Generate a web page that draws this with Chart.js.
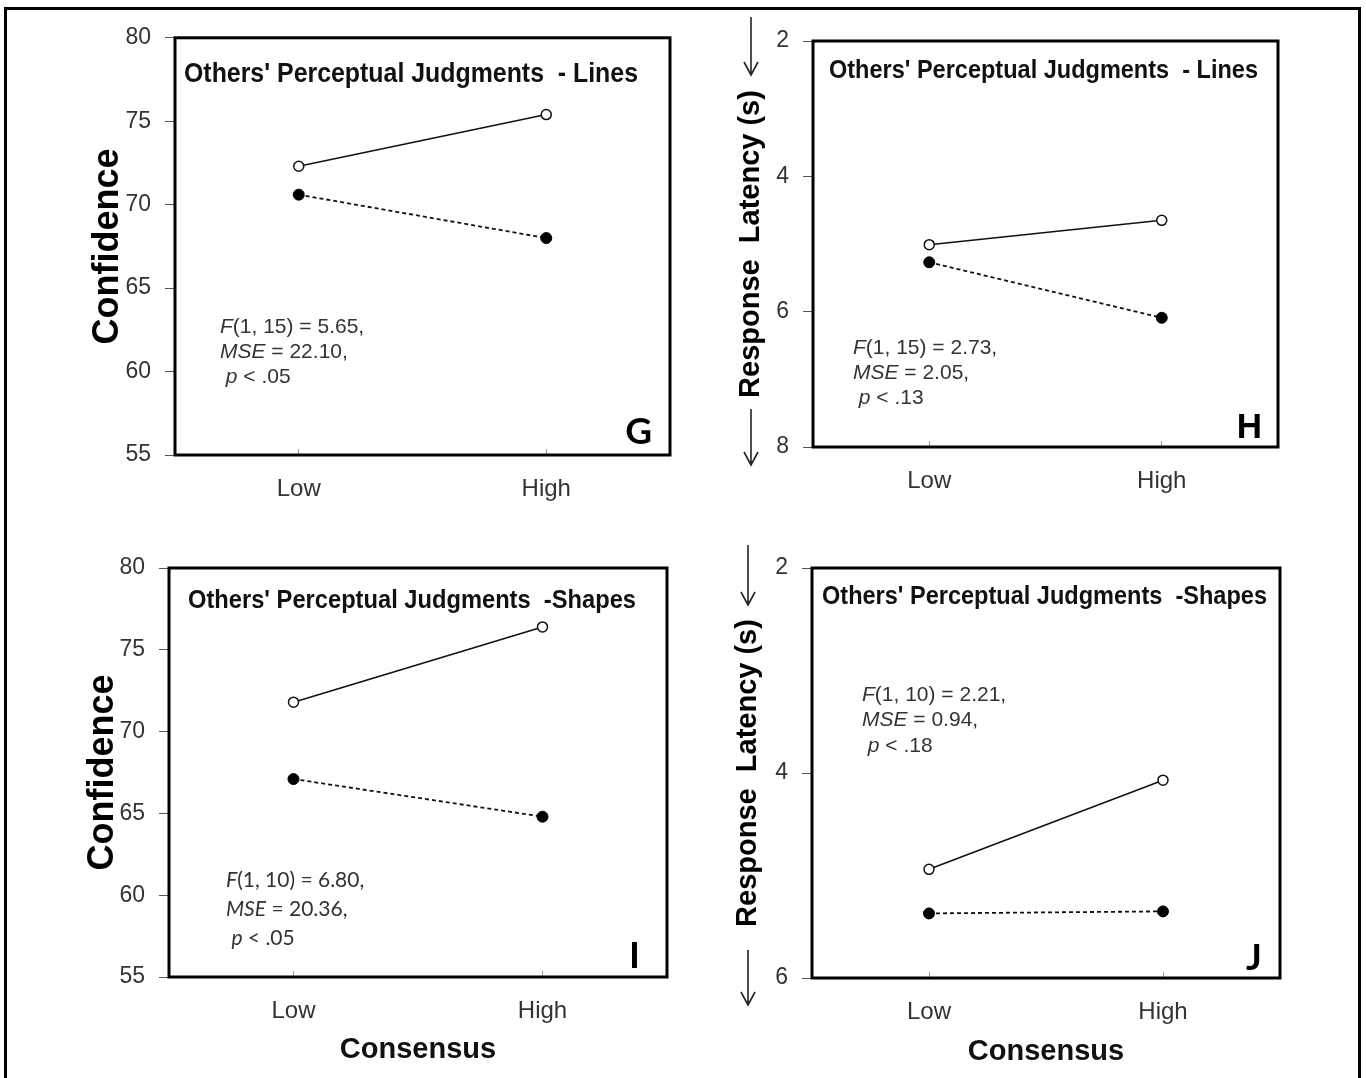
<!DOCTYPE html>
<html lang="en">
<head>
<meta charset="UTF-8" />
<title>Others' Perceptual Judgments - Confidence and Response Latency</title>
<script src="https://cdn.jsdelivr.net/npm/chart.js@4.4.0/dist/chart.umd.min.js"></script>
<style>
  html, body { margin: 0; padding: 0; background: #fff; overflow: hidden; }
  body { width: 1366px; height: 1078px; position: relative; }
  #frame { position: absolute; left: 4px; top: 7px; width: 1357px; height: 1100px;
           border: 3px solid #000; box-sizing: border-box; }
  canvas { position: absolute; }
</style>
</head>
<body>
<div id="frame"></div>
<canvas id="chartG" width="650" height="510" style="left:40px;top:10px"></canvas>
<canvas id="chartH" width="640" height="510" style="left:700px;top:10px"></canvas>
<canvas id="chartI" width="650" height="548" style="left:40px;top:530px"></canvas>
<canvas id="chartJ" width="640" height="548" style="left:700px;top:530px"></canvas>

<script>
// values (open circles = solid line, filled circles = dashed line)
const consensusLevels = ['Low', 'High'];

const linesConfOpen = [72.3, 75.4];
const linesConfFilled = [70.6, 68.0];
const linesLatOpen = [5.01, 4.65];
const linesLatFilled = [5.27, 6.09];

const shapesConfOpen = [71.8, 76.4];
const shapesConfFilled = [67.1, 64.8];
const shapesLatOpen = [4.94, 4.07];
const shapesLatFilled = [5.37, 5.35];

// stats text, [text, italic] segments per line
const statsG = [[['F', 1], ['(1, 15) = 5.65,', 0]], [['MSE', 1], [' = 22.10,', 0]], [[' ', 0], ['p', 1], [' < .05', 0]]];
const statsH = [[['F', 1], ['(1, 15) = 2.73,', 0]], [['MSE', 1], [' = 2.05,', 0]], [[' ', 0], ['p', 1], [' < .13', 0]]];
const statsI = [[['F', 1], ['(1, 10) = 6.80,', 0]], [['MSE', 1], [' = 20.36,', 0]], [[' ', 0], ['p', 1], [' < .05', 0]]];
const statsJ = [[['F', 1], ['(1, 10) = 2.21,', 0]], [['MSE', 1], [' = 0.94,', 0]], [[' ', 0], ['p', 1], [' < .18', 0]]];

const SANS = '"Liberation Sans", Arial, sans-serif';
const CAL = 'Lato, "Open Sans", sans-serif';

// frame, panel heading, stats, panel letter, latency arrows
const panelDecor = {
  id: 'panelDecor',
  afterDraw(chart, args, o) {
    const { ctx, chartArea: a } = chart;
    ctx.save();
    ctx.strokeStyle = '#000';
    ctx.lineWidth = 3;
    ctx.strokeRect(a.left, a.top, a.right - a.left, a.bottom - a.top);

    ctx.fillStyle = '#111';
    ctx.textAlign = 'left';
    ctx.textBaseline = 'middle';
    ctx.font = 'bold ' + o.titleSize + 'px ' + SANS;
    ctx.fillText(o.title, a.left + o.titleDx, a.top + o.titleDy, o.titleW);

    ctx.fillStyle = '#333';
    o.stats.forEach((line, i) => {
      let x = a.left + o.statsDx;
      const y = a.top + o.statsDy + i * o.statsGap;
      line.forEach(([txt, it]) => {
        ctx.font = (it ? 'italic ' : '') + o.statsSize + 'px ' + o.statsFont;
        ctx.fillText(txt, x, y);
        x += ctx.measureText(txt).width;
      });
    });

    ctx.fillStyle = '#000';
    ctx.textAlign = 'right';
    ctx.textBaseline = 'alphabetic';
    ctx.font = 'bold ' + o.letterSize + 'px ' + o.letterFont;
    ctx.fillText(o.letter, a.right - o.letterDx, a.bottom - o.letterDy);

    if (o.arrows) {
      const x = chart.scales.y.left + o.arrows.x;
      const draw = (y1, y2) => {
        ctx.beginPath();
        ctx.strokeStyle = '#222';
        ctx.lineWidth = 1.6;
        ctx.moveTo(x, y1); ctx.lineTo(x, y2);
        ctx.moveTo(x - 7, y2 - 13); ctx.lineTo(x, y2); ctx.lineTo(x + 7, y2 - 13);
        ctx.stroke();
      };
      draw(a.top + o.arrows.top[0], a.top + o.arrows.top[1]);
      draw(a.bottom + o.arrows.bottom[0], a.bottom + o.arrows.bottom[1]);
    }
    ctx.restore();
  }
};

function makePanel(id, p) {
  return new Chart(document.getElementById(id), {
    type: 'line',
    data: {
      labels: consensusLevels,
      datasets: [
        { data: p.filled, borderColor: '#111', borderWidth: 1.8, borderDash: [4, 3],
          pointRadius: 5.5, pointBackgroundColor: '#000', pointBorderColor: '#000', pointBorderWidth: 1 },
        { data: p.open, borderColor: '#111', borderWidth: 1.6,
          pointRadius: 5, pointBackgroundColor: '#fff', pointBorderColor: '#111', pointBorderWidth: 1.5 }
      ]
    },
    options: {
      responsive: false,
      animation: false,
      layout: { padding: p.pad },
      plugins: { legend: { display: false }, tooltip: { enabled: false }, panelDecor: p.decor },
      scales: {
        x: {
          offset: true,
          grid: { offset: false, drawOnChartArea: false, drawTicks: true, tickLength: -6, color: '#999' },
          border: { display: false },
          ticks: { color: '#333', padding: 26, font: { size: 24, family: SANS } },
          title: p.xTitle,
          afterFit: s => { s.height = p.xHeight; }
        },
        y: {
          min: p.min, max: p.max, reverse: p.reverse,
          grid: { drawOnChartArea: false, tickLength: 10, color: '#555' },
          border: { display: false },
          ticks: { stepSize: p.step, color: '#333', padding: 14, font: { size: 23, family: SANS } },
          title: p.yTitle,
          afterFit: s => { s.width = p.yWidth; }
        }
      }
    },
    plugins: [panelDecor]
  });
}

const confTitle = pad => ({ display: true, text: 'Confidence', color: '#000',
  font: { size: 36, weight: 'bold', family: SANS }, padding: { top: pad, bottom: 0 } });
const latTitle = pad => ({ display: true, text: 'Response  Latency (s)', color: '#000',
  font: { size: 29, weight: 'bold', family: SANS }, padding: { top: pad, bottom: 0 } });
const consTitle = pad => ({ display: true, text: 'Consensus', color: '#111',
  font: { size: 29, weight: 'bold', family: SANS }, padding: { top: 0, bottom: pad } });

makePanel('chartG', {
  open: linesConfOpen, filled: linesConfFilled, min: 55, max: 80, step: 5, reverse: false,
  pad: { left: 0, top: 26, right: 20, bottom: 0 }, yWidth: 135, xHeight: 65,
  yTitle: confTitle(46), xTitle: { display: false },
  decor: { title: "Others' Perceptual Judgments  - Lines", titleSize: 27, titleDx: 9, titleDy: 37, titleW: 454,
    stats: statsG, statsFont: SANS, statsSize: 21, statsDx: 45, statsDy: 289, statsGap: 25,
    letter: 'G', letterFont: CAL, letterSize: 37, letterDx: 18, letterDy: 11 }
});

makePanel('chartH', {
  open: linesLatOpen, filled: linesLatFilled, min: 2, max: 8, step: 2, reverse: true,
  pad: { left: 0, top: 31, right: 62, bottom: 0 }, yWidth: 113, xHeight: 73,
  yTitle: latTitle(34), xTitle: { display: false },
  decor: { title: "Others' Perceptual Judgments  - Lines", titleSize: 26, titleDx: 16, titleDy: 30, titleW: 429,
    stats: statsH, statsFont: SANS, statsSize: 21, statsDx: 40, statsDy: 307, statsGap: 25,
    letter: 'H', letterFont: SANS, letterSize: 35, letterDx: 16, letterDy: 9,
    arrows: { x: 51, top: [-24, 34], bottom: [-38, 18] } }
});

makePanel('chartI', {
  open: shapesConfOpen, filled: shapesConfFilled, min: 55, max: 80, step: 5, reverse: false,
  pad: { left: 0, top: 38, right: 23, bottom: 0 }, yWidth: 129, xHeight: 101,
  yTitle: confTitle(41), xTitle: consTitle(11),
  decor: { title: "Others' Perceptual Judgments  -Shapes", titleSize: 26, titleDx: 19, titleDy: 33, titleW: 448,
    stats: statsI, statsFont: CAL, statsSize: 21, statsDx: 57, statsDy: 312, statsGap: 29,
    letter: 'I', letterFont: CAL, letterSize: 37, letterDx: 27, letterDy: 9 }
});

makePanel('chartJ', {
  open: shapesLatOpen, filled: shapesLatFilled, min: 2, max: 6, step: 2, reverse: true,
  pad: { left: 0, top: 38, right: 60, bottom: 0 }, yWidth: 112, xHeight: 100,
  yTitle: latTitle(31), xTitle: consTitle(9),
  decor: { title: "Others' Perceptual Judgments  -Shapes", titleSize: 26, titleDx: 10, titleDy: 29, titleW: 445,
    stats: statsJ, statsFont: SANS, statsSize: 21, statsDx: 50, statsDy: 127, statsGap: 25.5,
    letter: 'J', letterFont: CAL, letterSize: 37, letterDx: 18, letterDy: 8,
    arrows: { x: 48, top: [-23, 37], bottom: [-28, 27] } }
});
</script>
</body>
</html>
